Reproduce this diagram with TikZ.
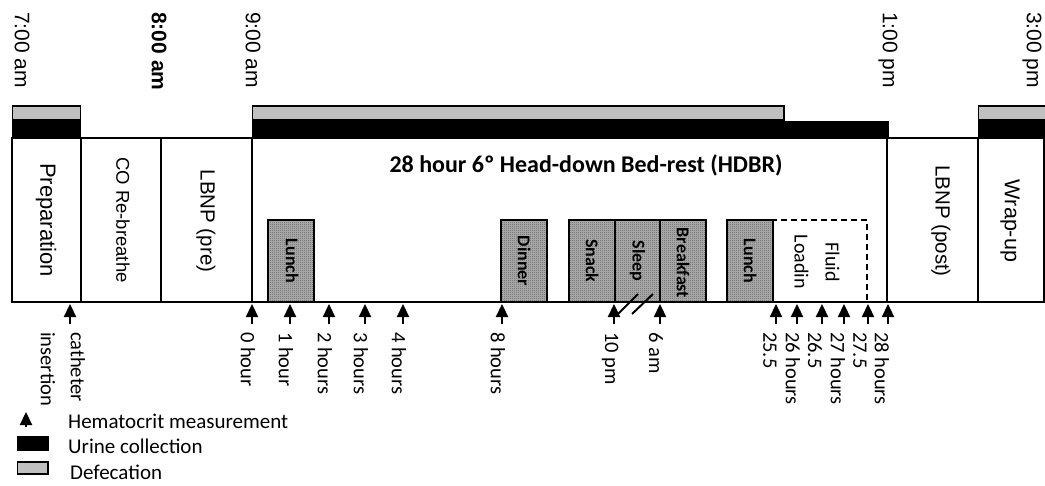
\documentclass[tikz,border=0pt]{standalone}
\usepackage{fontspec}
\setmainfont{Carlito}
\newfontfamily\arialf{Liberation Sans}
\usetikzlibrary{arrows.meta,patterns}
\definecolor{defgrey}{RGB}{192,192,192}
\pgfdeclarepatternformonly{finecheck}{\pgfpointorigin}{\pgfqpoint{2pt}{2pt}}{\pgfqpoint{2pt}{2pt}}{%
  \pgfpathrectangle{\pgfpointorigin}{\pgfqpoint{1pt}{1pt}}%
  \pgfpathrectangle{\pgfqpoint{1pt}{1pt}}{\pgfqpoint{1pt}{1pt}}%
  \pgfusepath{fill}}
\begin{document}
\begin{tikzpicture}[x=1pt,y=-1pt,
  timelbl/.style={rotate=-90, anchor=west, inner sep=0pt, font=\arialf\fontsize{21}{25}\selectfont},
  phaselbl/.style={rotate=-90, inner sep=0pt, font=\arialf\fontsize{#1}{25}\selectfont},
  phaselbl/.default=20.5,
  frame/.style={line width=2pt},
  meal/.style={draw, line width=1.3pt, preaction={fill=gray!62}, pattern=finecheck, pattern color=black!62},
  meallbl/.style={rotate=-90, inner sep=0pt, font=\bfseries\fontsize{18}{22}\selectfont},
  hct/.style={-{Triangle[width=12pt,length=13pt]}, line width=2.3pt},
  ticklbl/.style={rotate=-90, anchor=west, inner sep=0pt, font=\fontsize{20.5}{30}\selectfont},
  defec/.style={draw, line width=1.4pt, fill=defgrey},
  urine/.style={fill=black},
  legendlbl/.style={anchor=base west, inner sep=0pt, font=\fontsize{21}{25}\selectfont}
]
\useasboundingbox (0,0) rectangle (1045,485);

% top bars
\filldraw[defec] (12.7,106) rectangle (80.5,120);
\fill[urine] (12,120.5) rectangle (81,137);
\filldraw[defec] (252.5,106) rectangle (784,120);
\fill[urine] (252,120.5) rectangle (889,137);
\filldraw[defec] (978.5,106) rectangle (1046,120);
\fill[urine] (978,120.5) rectangle (1045,137);

% main frame and dividers
\draw[frame] (12,138) rectangle (1044,302);
\foreach \xx in {80.5,161,252,887,978}
  \draw[frame] (\xx,138) -- (\xx,302);

% time labels
\node[timelbl] (t7) at (22,12) {7:00 am};
\node[timelbl, font=\arialf\bfseries\fontsize{21}{25}\selectfont] (t8) at (159,12) {8:00 am};
\node[timelbl] (t9) at (253,12) {9:00 am};
\node[timelbl] (t13) at (888,12) {1:00 pm};
\node[timelbl] (t15) at (1032,12) {3:00 pm};

% phase labels
\node[phaselbl=22] (prep) at (46,220) {Preparation};
\node[phaselbl=18.5] (co) at (123,220) {CO Re-breathe};
\node[phaselbl] (lpre) at (206,221) {LBNP (pre)};
\node[phaselbl] (lpost) at (941,221) {LBNP (post)};
\node[phaselbl=21.5] (wrap) at (1010,221) {Wrap-up};
\node[inner sep=0pt, font=\bfseries\fontsize{24}{28}\selectfont] (hdbr) at (586,165) {28 hour 6º Head-down Bed-rest (HDBR)};

% meals
\path[meal] (268,220) rectangle (314,302);
\node[meallbl] (lunch1) at (292,261) {Lunch};
\path[meal] (501,220) rectangle (547,302);
\node[meallbl] (dinner) at (524,261) {Dinner};
\path[meal] (569,220) rectangle (615,302);
\node[meallbl] (snack) at (592,261) {Snack};
\path[meal] (615,220) rectangle (660,302);
\node[meallbl] (sleep) at (637.5,261) {Sleep};
\path[meal] (660,220) rectangle (706,302);
\node[meallbl] (bfast) at (683,263) {Breakfast};
\path[meal] (727,220) rectangle (773,302);
\node[meallbl] (lunch2) at (750,261) {Lunch};
\draw[line width=1.4pt, dash pattern=on 6pt off 4pt] (773,302) -- (773,220) -- (867,220) -- (867,302);
\node[rotate=-90, inner sep=0pt, align=center, font=\fontsize{20}{31}\selectfont] (fluid) at (817,262) {Fluid\\Loadin};

% hematocrit arrows
\foreach \nm/\xx in {cath/70, h0/252, h1/290, h2/329, h3/365, h4/403, h8/502, pm10/614, am6/660, h255/776, h26/797, h265/822, h27/844, h275/868, h28/888}{
  \coordinate (\nm-tail) at (\xx,324);
  \coordinate (\nm-tip) at (\xx,304);
  \draw[hct] (\nm-tail) -- (\nm-tip);
}

% slashes
\coordinate (s1a) at (617,315); \coordinate (s1b) at (638,294);
\coordinate (s2a) at (632,314); \coordinate (s2b) at (653,294);
\draw[line width=2pt] (s1a) -- (s1b);
\draw[line width=2pt] (s2a) -- (s2b);

% arrow labels
\node[ticklbl, align=left] (lcath) at (63,332) {catheter\\insertion};
\node[ticklbl] (l0) at (248,332) {0 hour};
\node[ticklbl] (l1) at (286,332) {1 hour};
\node[ticklbl] (l2) at (325,332) {2 hours};
\node[ticklbl] (l3) at (361,332) {3 hours};
\node[ticklbl] (l4) at (399,332) {4 hours};
\node[ticklbl] (l8) at (498,332) {8 hours};
\node[ticklbl] (l10) at (610,332) {10 pm};
\node[ticklbl] (l6) at (656,332) {6 am};
\node[ticklbl] (l255) at (770,332) {25.5};
\node[ticklbl] (l26) at (793,332) {26 hours};
\node[ticklbl] (l265) at (815,332) {26.5};
\node[ticklbl] (l27) at (838,332) {27 hours};
\node[ticklbl] (l275) at (860,332) {27.5};
\node[ticklbl] (l28) at (882,332) {28 hours};

% legend
\coordinate (lga) at (26,427);
\coordinate (lgb) at (26,412);
\draw[hct] (lga) -- (lgb);
\node[legendlbl] (lg1) at (68,428) {Hematocrit measurement};
\fill[urine] (17,436) rectangle (49,451);
\node[legendlbl] (lg2) at (68,453) {Urine collection};
\filldraw[defec] (17.5,462) rectangle (48,474);
\node[legendlbl] (lg3) at (70,479.5) {Defecation};
\end{tikzpicture}
\end{document}
